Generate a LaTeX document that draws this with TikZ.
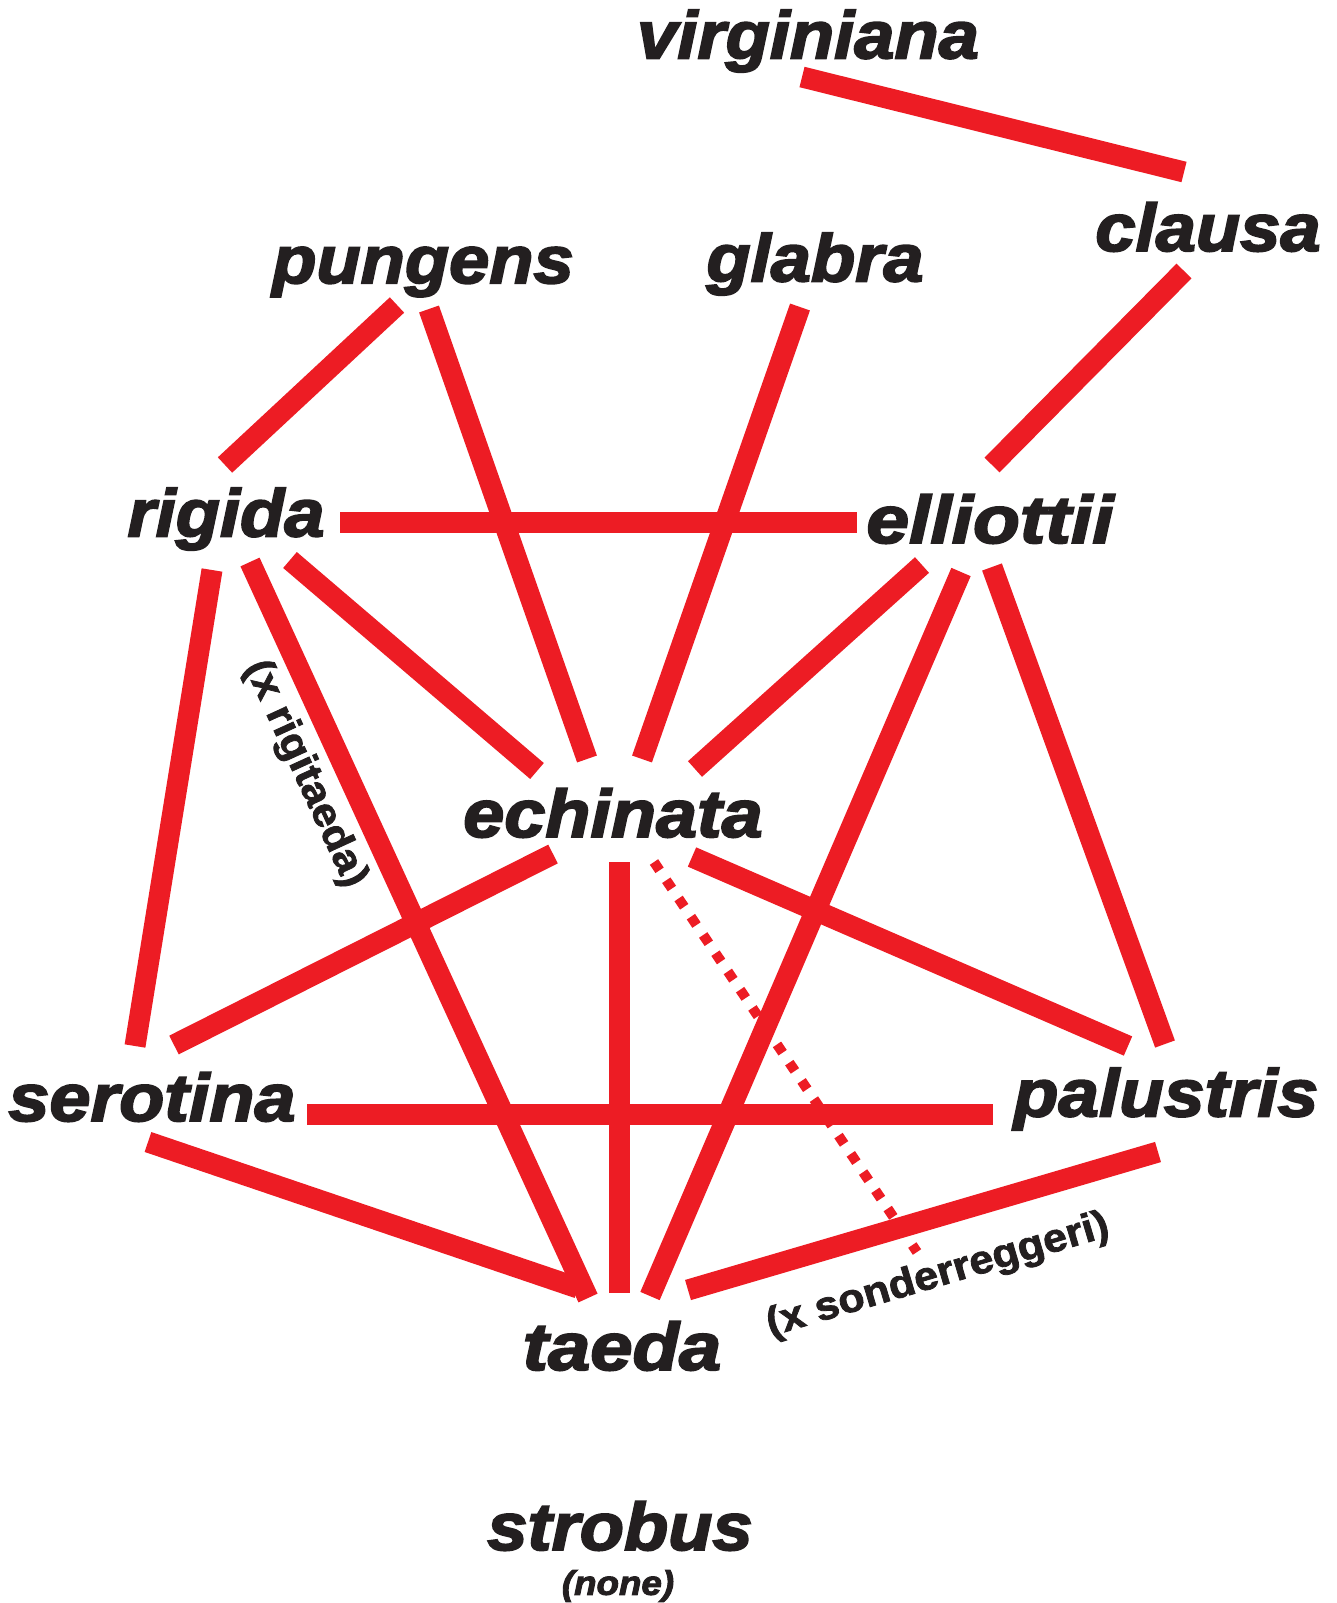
\documentclass[tikz,border=0pt]{standalone}
\usepackage{fontspec}
\newfontfamily\labfont{Liberation Sans Bold Italic}[FakeBold=2.8,FakeStretch=1.08]
\newfontfamily\hybfont{Liberation Sans Bold}[FakeBold=2,FakeStretch=1.08]
\definecolor{linkred}{HTML}{ED1C24}
\definecolor{ink}{HTML}{231F20}
\tikzset{
  species/.style={text=ink,inner sep=0pt,font=\labfont\fontsize{67}{70}\selectfont},
  hybrid/.style={text=ink,inner sep=0pt,font=\hybfont\fontsize{40}{44}\selectfont},
  note/.style={text=ink,inner sep=0pt,font=\labfont\fontsize{34}{38}\selectfont},
  link/.style={draw=linkred,line width=21pt},
  hyblink/.style={draw=linkred,line width=10pt,dash pattern=on 10pt off 12pt}
}
\newcommand{\mylink}[5][link]{%
  \coordinate (#2-a) at #4;
  \coordinate (#3-b) at #5;
  \draw[#1] (#2-a) -- (#3-b);}
\begin{document}
\begin{tikzpicture}[x=1pt,y=-1pt]
\useasboundingbox[fill=white] (0,0) rectangle (1336,1603);
% species labels
\node[species] (virginiana) at (808,41) {virginiana};
\node[species] (clausa) at (1208,227) {clausa};
\node[species] (pungens) at (423,272) {pungens};
\node[species] (glabra) at (815,264) {glabra};
\node[species] (rigida) at (226,519) {rigida};
\node[species] (elliottii) at (990,519) {\scalebox{1.06}[1]{elliottii}};
\node[species] (echinata) at (613,813) {\scalebox{1.02}[1]{echinata}};
\node[species] (serotina) at (152,1097) {\scalebox{1.02}[1]{serotina}};
\node[species] (palustris) at (1166,1099) {\scalebox{1.01}[1]{palustris}};
\node[species] (taeda) at (622,1346) {\scalebox{1.05}[1]{taeda}};
\node[species] (strobus) at (620,1526) {strobus};
\node[note] (none) at (618,1586) {(none)};
% links
\mylink{vir1}{cla1}{(802,77)}{(1184,172)}
\mylink{cla2}{ell1}{(1184,271)}{(992,465)}
\mylink{pun1}{rig1}{(397,305)}{(225,465)}
\mylink{pun2}{ech1}{(429,309)}{(587,759)}
\mylink{gla1}{ech2}{(800,307)}{(642,759)}
\mylink{rig2}{ell2}{(340,522)}{(857,522)}
\mylink{rig3}{ser1}{(212,570)}{(135,1046)}
\mylink{rig4}{tae1}{(250,562)}{(588,1298)}
\mylink{rig5}{ech3}{(290,560)}{(537,771)}
\mylink{ell3}{ech4}{(922,565)}{(695,769)}
\mylink{ell4}{tae2}{(961,572)}{(650,1296)}
\mylink{ell5}{pal1}{(992,567)}{(1165,1044)}
\mylink{ech5}{ser2}{(553,854)}{(174,1045)}
\mylink{ech6}{tae3}{(619,862)}{(619,1293)}
\mylink{ech7}{pal2}{(692,857)}{(1128,1046)}
\mylink[hyblink]{ech8}{hyb1}{(654,862)}{(917,1252)}
\mylink{ser3}{pal3}{(307,1114)}{(993,1114)}
\mylink{ser4}{tae4}{(148,1142)}{(578,1288)}
\mylink{pal4}{tae5}{(1158,1152)}{(688,1290)}
% hybrid labels
\node[hybrid,rotate=-65.4] (rigitaeda) at (305,774) {(x rigitaeda)};
\node[hybrid,rotate=16.5] (sonderreggeri) at (938,1276) {(x sonderreggeri)};
\end{tikzpicture}
\end{document}
